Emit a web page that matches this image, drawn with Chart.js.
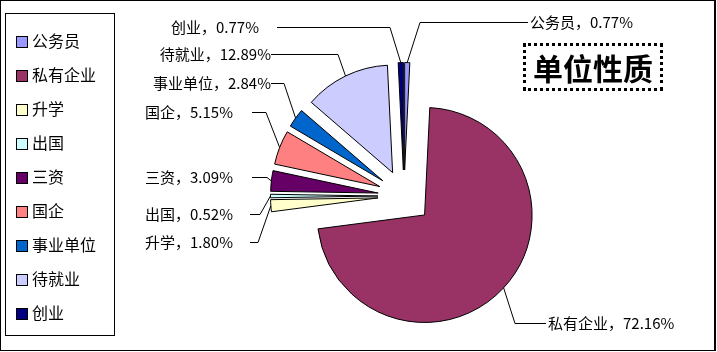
<!DOCTYPE html>
<html lang="zh">
<head>
    <meta charset="UTF-8">
    <title>单位性质</title>
    <script src="https://cdn.jsdelivr.net/npm/chart.js"></script>
    <style>
        body { margin: 0; background: #fff; font-family: "Noto Sans CJK SC", sans-serif; }
        #stage { position: relative; width: 717px; height: 352px; }
        #chart { position: absolute; left: 0; top: 0; }
        #frame {
            position: absolute; left: 0; top: 0; width: 716px; height: 351px;
            box-sizing: border-box; border: 1px solid #000; border-right-width: 2px;
        }
        #legend {
            position: absolute; left: 5px; top: 13px; width: 110px; height: 323px;
            box-sizing: border-box; border: 1px solid #000;
        }
        .item { position: absolute; left: 10px; height: 20px; line-height: 20px; font-size: 16px; color: #000; white-space: nowrap; }
        .item span.box { display: inline-block; width: 10px; height: 10px; border: 1px solid #000; vertical-align: -1px; margin-right: 4px; }
        #title {
            position: absolute; left: 523px; top: 43px; width: 140px; height: 48px;
            box-sizing: border-box; border: 3px dotted #000;
            font-size: 30px; font-weight: bold; line-height: 42px; text-align: center; color: #000;
        }
    </style>
</head>
<body>
<div id="stage">
    <canvas id="chart" width="717" height="352"></canvas>
    <div id="frame"></div>
    <div id="legend"></div>
    <div id="title">单位性质</div>
</div>
<script>
    const categories = ['公务员', '私有企业', '升学', '出国', '三资', '国企', '事业单位', '待就业', '创业'];
    const shares = [0.77, 72.16, 1.80, 0.52, 3.09, 5.15, 2.84, 12.89, 0.77];
    const colors = ['#9999FF', '#993366', '#FFFFCC', '#CCFFFF', '#660066', '#FF8080', '#0066CC', '#CCCCFF', '#000080'];

    // how far each slice is pulled out of the pie (px)
    const explode = [26, 28, 26, 26, 26, 26, 26, 26, 26];

    // label placement: text x, alignment, start of leader, elbow x, baseline y
    const labelLayout = [
        { x: 530, align: 'left',  lx: 528, ex: 420, y: 22 },
        { x: 548, align: 'left',  lx: 546, ex: 515, y: 323 },
        { x: 233, align: 'right', lx: 250, ex: 258, y: 242 },
        { x: 233, align: 'right', lx: 250, ex: 260, y: 214 },
        { x: 233, align: 'right', lx: 252, ex: 267, y: 177 },
        { x: 233, align: 'right', lx: 252, ex: 266, y: 112 },
        { x: 271, align: 'right', lx: 271, ex: 284, y: 83 },
        { x: 271, align: 'right', lx: 271, ex: 338, y: 54 },
        { x: 259, align: 'right', lx: 277, ex: 390, y: 27 }
    ];

    // legend
    const legend = document.getElementById('legend');
    categories.forEach((c, i) => {
        const d = document.createElement('div');
        d.className = 'item';
        d.style.top = (16 + i * 34) + 'px';
        d.innerHTML = `<span class="box" style="background:${colors[i]}"></span>${c}`;
        legend.appendChild(d);
    });

    const explodePlugin = {
        id: 'explode',
        beforeDatasetDraw(chart, args) {
            const ctx = chart.ctx;
            args.meta.data.forEach((arc, i) => {
                const mid = (arc.startAngle + arc.endAngle) / 2;
                ctx.save();
                ctx.translate(Math.cos(mid) * explode[i], Math.sin(mid) * explode[i]);
                arc.draw(ctx);
                ctx.restore();
            });
            return false;
        }
    };

    const labelPlugin = {
        id: 'leaderLabels',
        afterDatasetsDraw(chart) {
            const ctx = chart.ctx;
            const arcs = chart.getDatasetMeta(0).data;
            ctx.save();
            ctx.font = '15px "Noto Sans CJK SC"';
            ctx.fillStyle = '#000';
            ctx.strokeStyle = '#000';
            ctx.lineWidth = 1;
            ctx.textBaseline = 'middle';
            arcs.forEach((arc, i) => {
                const L = labelLayout[i];
                const mid = (arc.startAngle + arc.endAngle) / 2;
                const dist = explode[i] + arc.outerRadius;
                const ax = arc.x + Math.cos(mid) * dist;
                const ay = arc.y + Math.sin(mid) * dist;
                ctx.beginPath();
                ctx.moveTo(L.lx, L.y + 0.5);
                ctx.lineTo(L.ex, L.y + 0.5);
                ctx.lineTo(ax, ay);
                ctx.stroke();
                ctx.textAlign = L.align;
                ctx.fillText(`${categories[i]}，${shares[i].toFixed(2)}%`, L.x, L.y);
            });
            ctx.restore();
        }
    };

    new Chart(document.getElementById('chart'), {
        type: 'pie',
        data: {
            labels: categories,
            datasets: [{
                data: shares,
                backgroundColor: colors,
                borderColor: '#000',
                borderWidth: 1
            }]
        },
        options: {
            responsive: false,
            animation: false,
            layout: { padding: { left: 296, right: 205, top: 88, bottom: 48 } },
            plugins: {
                legend: { display: false },
                title: { display: false },
                tooltip: { enabled: false }
            }
        },
        plugins: [explodePlugin, labelPlugin]
    });
</script>
</body>
</html>
